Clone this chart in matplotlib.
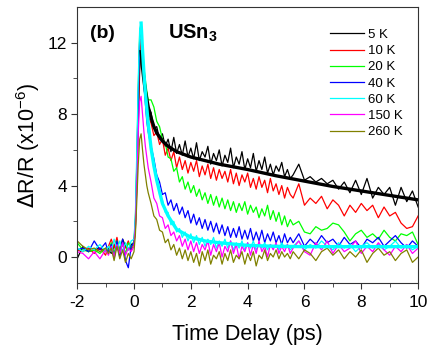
import numpy as np
import matplotlib
matplotlib.use('Agg')
import matplotlib.pyplot as plt

plt.rcParams['font.family'] = ['Liberation Sans', 'DejaVu Sans']
plt.rcParams['axes.unicode_minus'] = False

# time grid (ps): coarse before zero, fine around the peak, coarse at the end
t = np.concatenate([
    np.arange(-2.0, -0.95, 0.2),
    np.arange(-0.9, -0.05, 0.1),
    np.arange(0.0, 0.51, 0.05),
    np.arange(0.6, 5.51, 0.1),
    np.arange(5.6, 10.01, 0.2),
])

k5 = [-0.1, 0.6, 0.3, 0.4, 0.5, 0.3,
      0.5, 0.2, 0.6, 0.9, 0.3, 1.0, 0.6, 0.4, 0.7,
      0.8, 1.6, 4.0, 7.5, 10.5, 11.5, 10.6, 9.7, 9.3, 8.8, 8.4,
      8.1, 7.2, 7.3, 6.6, 6.9, 6.2, 6.6, 5.9, 6.7, 5.8, 6.3, 5.7, 6.5, 5.6, 6.1, 5.5, 6.4, 5.4, 5.9, 5.6,
      6.2, 5.2, 5.8, 5.4, 6.0, 5.1, 5.7, 5.3, 6.1, 5.0, 5.6, 5.2, 5.9, 4.9, 5.5, 5.0, 5.8, 4.8, 5.4, 4.9,
      5.6, 4.7, 5.2, 4.6, 5.1, 4.8, 5.3, 4.5, 4.9, 4.4,
      4.6, 5.2, 4.3, 4.5, 4.2, 4.4, 4.1, 4.3, 3.8, 4.2, 3.6, 4.3, 3.5, 4.4, 3.3, 3.9, 3.5, 3.9, 2.9, 3.9,
      3.1, 3.7, 2.8]
k10 = [0.4, 0.3, 0.5, 0.2, 0.5, 0.1,
       0.6, 1.0, 0.5, 1.1, 0.3, 0.8, 0.5, 0.9, 0.4,
       0.7, 1.8, 4.5, 8.0, 11.0, 12.2, 11.0, 9.8, 9.0, 8.4, 7.9,
       7.5, 6.8, 7.0, 6.3, 6.6, 5.7, 6.1, 5.4, 5.9, 5.0, 5.6, 4.9, 5.4, 4.7, 5.3, 4.8, 5.4, 4.5, 5.1, 4.6,
       5.2, 4.4, 5.0, 4.3, 4.9, 4.4, 4.8, 4.2, 4.9, 4.1, 4.7, 4.0, 4.6, 4.2, 4.7, 3.9, 4.4, 3.8, 4.5, 3.9,
       4.3, 3.6, 4.4, 3.7, 4.1, 3.5, 4.0, 3.3, 3.9, 3.5,
       3.3, 4.1, 2.9, 3.3, 3.0, 3.4, 2.7, 3.2, 2.9, 2.3, 2.9, 2.5, 3.0, 2.6, 2.9, 2.2, 2.8, 2.3, 2.5, 1.9,
       1.6, 1.7, 2.3]
k20 = [0.8, 0.4, 0.3, 0.4, 0.2, 0.5,
       0.3, 0.8, 0.2, 0.9, 0.4, 0.7, 0.2, 0.8, 0.5,
       0.9, 2.2, 5.5, 9.5, 12.5, 13.1, 11.8, 10.6, 9.9, 9.3, 8.8,
       8.8, 8.4, 7.6, 7.3, 6.6, 6.4, 5.6, 5.5, 4.8, 5.0, 4.2, 4.5, 3.8, 4.2, 3.6, 4.0, 3.4, 3.8, 3.2, 3.6,
       3.0, 3.5, 2.9, 3.4, 2.8, 3.3, 2.7, 3.2, 2.6, 3.1, 2.5, 3.0, 2.6, 3.1, 2.4, 2.9, 2.5, 2.8, 2.2, 2.7,
       2.3, 2.9, 2.1, 2.6, 2.0, 2.5, 1.8, 2.3, 1.7, 2.1,
       1.8, 2.0, 1.4, 1.3, 1.7, 1.5, 1.6, 1.9, 1.8, 1.4, 0.9, 1.3, 1.5, 1.1, 1.3, 1.0, 1.5, 1.1, 0.9, 1.3,
       1.2, 1.4, 0.7]
k40 = [0.4, 0.5, 0.3, 0.9, 0.4, 0.8,
       0.2, 0.7, -0.1, 0.9, 0.0, 1.0, -0.2, -0.6, 0.6,
       0.8, 2.0, 5.2, 9.0, 12.2, 12.9, 11.2, 9.6, 8.6, 7.6, 7.0,
       6.2, 5.5, 4.6, 4.2, 3.5, 3.6, 2.9, 3.2, 2.6, 3.0, 2.4, 2.8, 2.2, 2.6, 1.9, 2.4, 1.8, 2.2, 1.6, 2.1,
       1.5, 2.0, 1.4, 1.9, 1.3, 1.8, 1.2, 1.7, 1.1, 1.6, 1.1, 1.7, 1.0, 1.5, 1.0, 1.6, 0.9, 1.4, 0.9, 1.5,
       0.8, 1.3, 0.9, 1.4, 0.8, 1.2, 0.7, 1.3, 0.8, 1.1,
       0.8, 1.3, 0.6, 1.0, 0.7, 1.2, 0.8, 1.0, 0.6, 1.1, 0.7, 0.9, 0.5, 1.0, 0.8, 1.1, 0.6, 0.9, 1.2, 0.8,
       0.5, 0.9, 0.6]
k60 = [0.5, 0.3, 0.6, 0.4, 0.7, 0.3,
       0.6, 0.3, 1.0, 0.4, 0.9, 0.3, 0.8, 0.4, 0.9,
       1.0, 2.4, 6.0, 10.0, 12.8, 13.1, 11.5, 10.0, 8.8, 7.9, 7.1,
       6.3, 5.0, 4.5, 3.5, 3.2, 2.5, 2.5, 1.8, 2.0, 1.4, 1.6, 1.1, 1.4, 0.9, 1.3, 0.8, 1.2, 0.7, 1.1, 0.6,
       1.0, 0.7, 1.1, 0.5, 0.9, 0.6, 1.0, 0.5, 0.9, 0.4, 0.8, 0.5, 0.9, 0.4, 0.8, 0.5, 0.9, 0.4, 0.7, 0.5,
       0.8, 0.4, 0.7, 0.5, 0.7, 0.4, 0.8, 0.5, 0.7, 0.4,
       0.6, 0.9, 0.4, 0.7, 0.5, 0.9, 0.6, 0.4, 0.8, 0.5, 0.7, 0.3, 0.6, 0.8, 0.5, 0.7, 0.4, 0.6, 0.9, 0.5,
       0.7, 0.4, 0.6]
k150 = [0.3, 0.2, -0.1, 0.3, -0.1, 0.4,
        0.1, 0.6, 0.0, 0.7, 0.2, 0.8, 0.1, 0.5, 0.3,
        0.6, 1.8, 4.2, 7.0, 8.7, 9.0, 8.0, 7.0, 6.2, 5.6, 5.0,
        4.2, 3.3, 3.0, 2.3, 2.2, 1.6, 1.8, 1.2, 1.4, 0.9, 1.2, 0.6, 1.0, 0.4, 0.9, 0.3, 0.8, 0.2, 0.7, 0.4,
        0.9, 0.1, 0.7, 0.3, 0.8, 0.0, 0.6, 0.3, 0.9, 0.2, 0.7, -0.1, 0.6, 0.3, 0.8, 0.1, 0.7, 0.2, 0.9, 0.3,
        0.6, 0.0, 0.7, 0.4, 0.8, 0.2, 0.6, 0.3, 0.7, 0.2,
        0.5, 0.9, 0.3, 0.1, 0.8, 0.4, 0.9, 0.2, 0.7, 0.3, 0.5, 0.9, 0.2, 0.6, 0.3, 0.8, 0.4, 0.1, 0.6, 0.3,
        0.7, 0.2, 0.5]
k260 = [0.9, 0.6, 0.4, 0.5, 0.3, 0.5,
        0.2, 0.5, -0.2, 0.6, -0.1, 0.4, -0.3, 0.2, -0.1,
        0.3, 1.3, 3.2, 5.2, 6.6, 6.9, 6.0, 5.2, 4.6, 4.0, 3.6,
        3.0, 2.3, 2.1, 1.5, 1.4, 0.8, 1.0, 0.4, 0.7, 0.1, 0.5, -0.1, 0.4, -0.2, 0.3, -0.3, 0.2, -0.5, 0.3, -0.2,
        0.4, -0.4, 0.1, -0.1, 0.3, -0.4, 0.2, -0.2, 0.4, -0.3, 0.1, -0.1, 0.3, -0.4, 0.2, -0.2, 0.3, -0.5, 0.1, -0.1,
        0.4, -0.2, 0.2, 0.0, 0.4, -0.1, 0.3, 0.0, 0.2, -0.1,
        0.3, -0.1, 0.4, 0.2, -0.2, 0.3, 0.5, 0.1, 0.4, -0.1, 0.3, 0.0, 0.4, -0.3, 0.2, 0.5, 0.1, 0.3, -0.2, 0.2,
        0.4, -0.3, 0.0]

labels = ['5 K', '10 K', '20 K', '40 K', '60 K', '150 K', '260 K']
colors = ['#000000', '#ff0000', '#00ff00', '#0000ff', '#00ffff', '#ff00ff', '#808000']
series = [k5, k10, k20, k40, k60, k150, k260]

# fitted curves (5 K and 60 K)
fit_t = [0.25, 0.3, 0.35, 0.4, 0.5, 0.6, 0.7, 0.8, 1.0, 1.2, 1.5, 2.0, 2.5, 3.0,
         4.0, 5.0, 6.0, 7.0, 8.0, 9.0, 10.0]
fit_5k = [11.5, 10.6, 9.9, 9.3, 8.4, 7.8, 7.3, 6.95, 6.5, 6.2, 5.9, 5.6, 5.4, 5.2,
          4.9, 4.55, 4.25, 3.95, 3.7, 3.45, 3.2]
fit_60k = [13.1, 11.6, 10.3, 9.2, 7.5, 6.1, 5.1, 4.3, 3.0, 2.3, 1.55, 1.1, 0.9, 0.8,
           0.65, 0.6, 0.58, 0.58, 0.58, 0.58, 0.58]

fig = plt.figure(figsize=(4.36, 3.51), dpi=100)
ax = fig.add_axes([0.177, 0.194, 0.782, 0.786])

for y, c, lab in zip(series, colors, labels):
    ax.plot(t, y, color=c, lw=0.9, label=lab)
ax.plot(fit_t, fit_5k, color='k', lw=2.4)
ax.plot(fit_t, fit_60k, color='#00ffff', lw=2.4)

ax.set_xlim(-2, 10)
ax.set_ylim(-1.45, 14)
ax.set_xticks([-2, 0, 2, 4, 6, 8, 10])
ax.set_xticks(np.arange(-1, 10, 2), minor=True)
ax.set_yticks([0, 4, 8, 12])
ax.set_yticks([2, 6, 10], minor=True)
ax.tick_params(which='both', direction='out', top=False, right=False, labelsize=12.5, color='#333333')
ax.tick_params(which='major', length=4)
ax.tick_params(which='minor', length=3)
ax.tick_params(axis='x', pad=5)
for s in ax.spines.values():
    s.set_color('#333333')

ax.set_xlabel('Time Delay (ps)', fontsize=15.5, labelpad=10)
ax.set_ylabel(r'$\Delta$R/R (x10$^{\mathregular{-6}}$)', fontsize=15.5, labelpad=4)

ax.text(0.038, 0.905, '(b)', transform=ax.transAxes, fontsize=14, fontweight='bold', va='center')
ax.text(0.267, 0.905, r'USn$_{\mathregular{3}}$', transform=ax.transAxes, fontsize=14.5,
        fontweight='bold', va='center')

leg = ax.legend(loc='upper left', bbox_to_anchor=(0.725, 0.94), frameon=False, fontsize=9.5,
                handlelength=2.6, handletextpad=0.3, labelspacing=0.3, borderaxespad=0)

plt.savefig('out.png', dpi=100)
